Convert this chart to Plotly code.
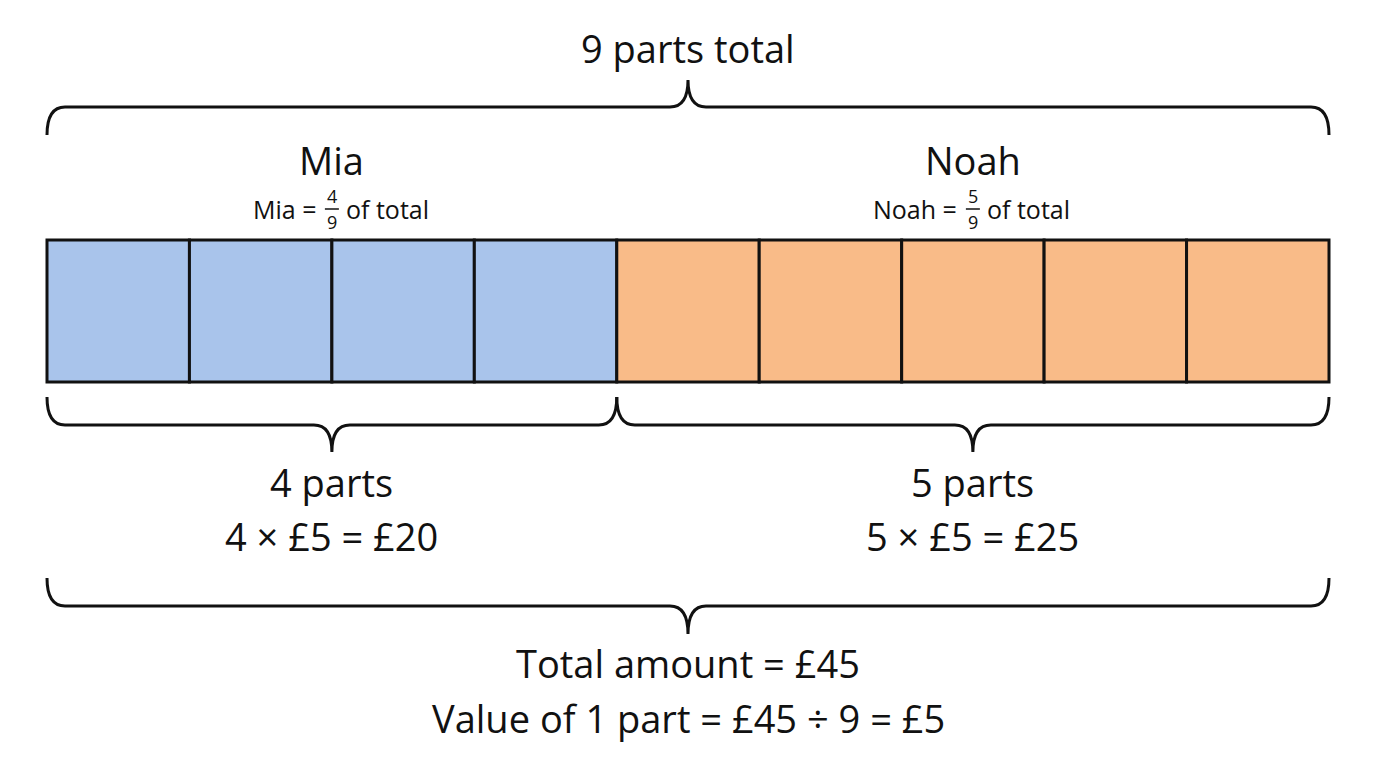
import plotly.graph_objects as go

names = ["Mia", "Noah"]
parts = [4, 5]
part_value = 5
total = 45
colors = ["#a9c4eb", "#f9bb88"]

X0, X1 = 47, 1329
BY0, BY1 = 240, 382
n = sum(parts)
w = (X1 - X0) / n
F = "Open Sans, Lato, sans-serif"

fig = go.Figure()
shapes = []
ann = []

def brace(x0, x1, yb, yl, ytip, r=18):
    m = (x0 + x1) / 2
    return (f"M {x0},{yb} Q {x0},{yl} {x0+r},{yl} L {m-r},{yl} Q {m},{yl} {m},{ytip} "
            f"Q {m},{yl} {m+r},{yl} L {x1-r},{yl} Q {x1},{yl} {x1},{yb}")

def txt(x, y, s, size, xa="center"):
    ann.append(dict(x=x, y=y, text=s, showarrow=False, xref="x", yref="y",
                    font=dict(family=F, size=size, color="#111"), xanchor=xa, yanchor="middle"))

k = 0
for i, (nm, p) in enumerate(zip(names, parts)):
    sx0 = X0 + k * w
    for j in range(p):
        shapes.append(dict(type="rect", x0=X0 + k * w, x1=X0 + (k + 1) * w, y0=BY0, y1=BY1,
                           fillcolor=colors[i], line=dict(color="#111", width=3), layer="below"))
        k += 1
    sx1 = X0 + k * w
    cx = (sx0 + sx1) / 2
    txt(cx, 160, nm, 38)
    txt(cx - 14, 209, f"{nm} =", 25, "right")
    txt(cx, 196, str(p), 18)
    txt(cx, 222, str(n), 18)
    shapes.append(dict(type="line", x0=cx - 7, x1=cx + 7, y0=209, y1=209, line=dict(color="#111", width=1.5)))
    txt(cx + 12, 209, "of total", 25, "left")
    shapes.append(dict(type="path", path=brace(sx0, sx1, 397, 425, 452), line=dict(color="#111", width=3)))
    txt(cx, 482, f"{p} parts", 38)
    txt(cx, 536, f"{p} × £{part_value} = £{p*part_value}", 38)

shapes.append(dict(type="path", path=brace(X0, X1, 135, 107, 80), line=dict(color="#111", width=3)))
txt(688, 48, f"{n} parts total", 38)
shapes.append(dict(type="path", path=brace(X0, X1, 578, 606, 634), line=dict(color="#111", width=3)))
txt(688, 663, f"Total amount = £{total}", 38)
txt(688, 718, f"Value of 1 part = £{total} ÷ {n} = £{part_value}", 38)

fig.add_trace(go.Scatter(x=[8, 1384], y=[8, 776], mode="markers", marker=dict(opacity=0), hoverinfo="skip"))
fig.update_layout(width=1376, height=768, margin=dict(l=0, r=0, t=0, b=0),
                  plot_bgcolor="white", paper_bgcolor="white", showlegend=False,
                  shapes=shapes, annotations=ann,
                  xaxis=dict(range=[8, 1384], visible=False, fixedrange=True),
                  yaxis=dict(range=[776, 8], visible=False, fixedrange=True))
fig.write_html("out.html", config={"displayModeBar": False})
